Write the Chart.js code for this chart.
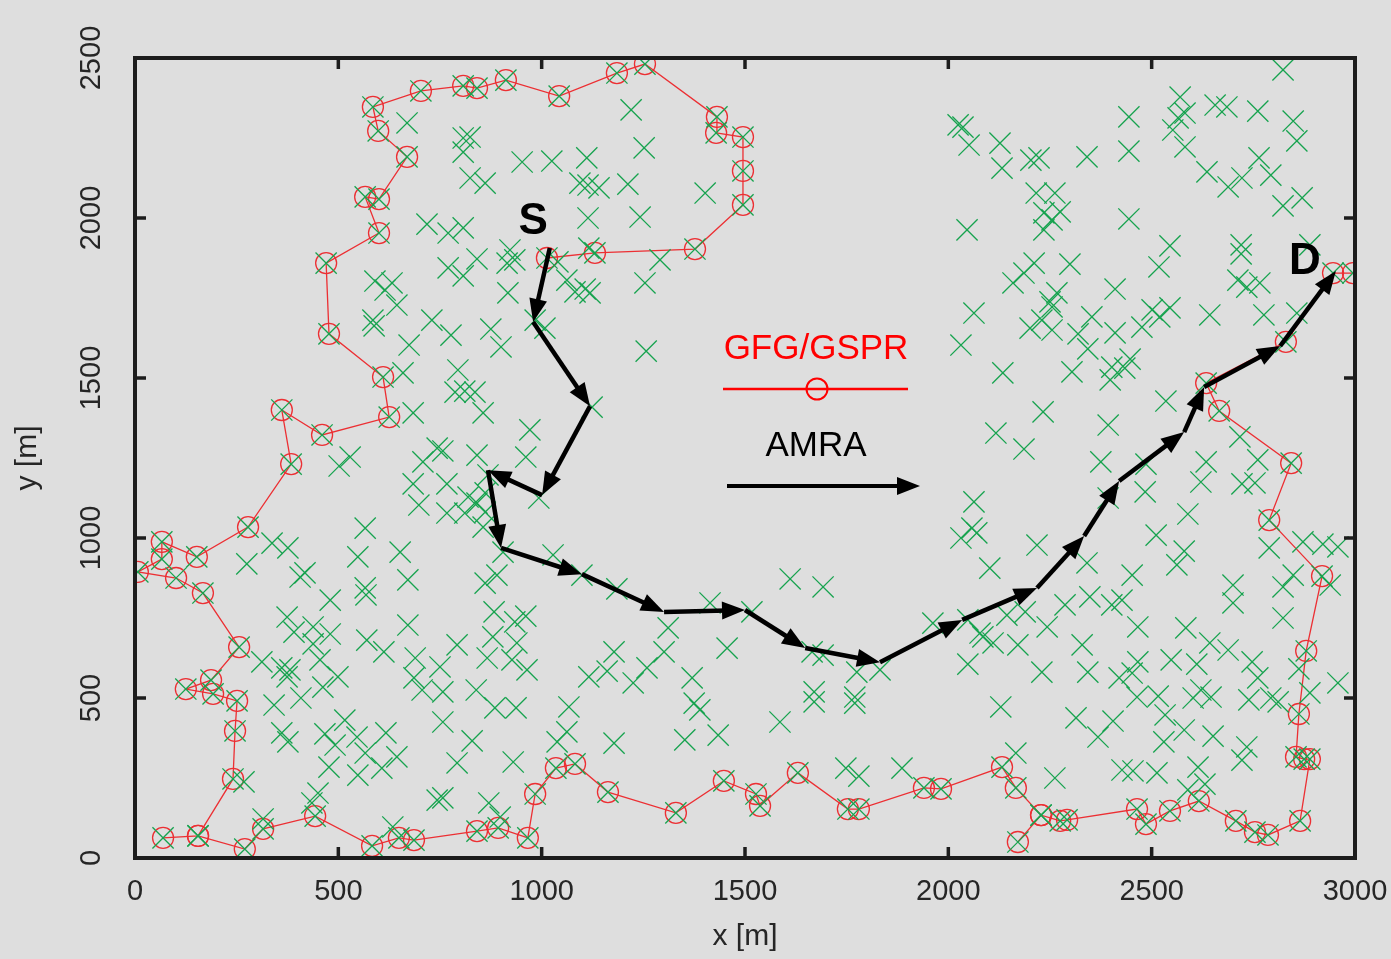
<!DOCTYPE html>
<html>
<head>
<meta charset="utf-8">
<script src="https://cdn.jsdelivr.net/npm/chart.js@4.4.1/dist/chart.umd.min.js"></script>
<style>
  html, body { margin: 0; padding: 0; background: #dedede; }
  canvas { display: block; }
</style>
</head>
<body>
<canvas id="myChart" width="1391" height="959"></canvas>
<script>
const ctx = document.getElementById("myChart").getContext("2d");

// GFG/GSPR route, S -> D (m)
const routeX = [1013,1131,1377,1495,1495,1495,1429,1431,1254,1185,1043,912,841,807,703,585,598,669,600,566,600,470,477,610,625,460,361,384,278,152,66,66,7,101,167,256,187,125,192,251,246,241,155,69,155,270,315,443,583,649,686,841,893,966,984,1035,1082,1163,1330,1448,1527,1537,1630,1753,1780,1940,1982,2132,2166,2228,2171,2228,2275,2292,2464,2486,2545,2616,2707,2754,2786,2865,2889,2875,2855,2862,2880,2919,2789,2843,2666,2634,2830,2946,2995];
const routeY = [1875,1891,1903,2041,2147,2253,2266,2316,2481,2453,2381,2431,2406,2413,2397,2347,2272,2191,2059,2066,1953,1859,1638,1503,1378,1322,1400,1231,1034,941,988,934,894,875,828,659,556,528,513,491,397,247,69,63,69,28,91,131,38,63,56,84,94,63,200,281,294,206,141,241,200,163,266,153,153,219,216,284,219,134,50,134,116,119,153,106,147,178,116,81,72,116,309,309,316,450,647,881,1056,1234,1397,1484,1613,1828,1828];

// AMRA route waypoints (m)
const amraX = [1020,979,1119,1001,868,900,1099,1301,1500,1648,1832,2034,2218,2334,2420,2580,2629,2816,2953];
const amraY = [1906,1675,1412,1134,1212,969,887,769,775,656,612,744,844,1006,1178,1331,1472,1600,1834];

// other nodes (m)
const nodeX = [
  669,718,590,615,632,644,585,730,
  1220,807,824,807,824,861,952,1025,1111,1094,1114,1141,1212,1252,1402,1114,1242,770,807,922,934,915,841,770,807,917,1116,1040,1062,1107,1119,1082,1254,1291,984,
  2024,2036,2051,2127,2132,2203,2223,2216,2235,2235,2046,2211,2186,2159,2063,2230,2250,
  2823,2444,2570,2565,2582,2552,2582,2656,2685,2761,2848,2857,2444,2341,2764,2793,2636,2688,2722,2823,2870,2444,2262,2275,2255,2545,2518,2299,2720,2720,2889,2712,2734,2766,2410,2267,2255,2501,2520,2545,2353,2643,2776,2857,
  588,674,659,684,529,502,708,684,698,566,337,376,275,548,652,406,418,566,671,743,
  777,875,900,1008,1257,794,811,836,787,856,971,1124,757,841,961,767,819,841,861,868,767,811,861,856,993,905,1028,1099,861,890,1185,
  2031,2134,2233,2117,2186,2063,2058,2031,2070,2102,2218,1611,1692,2201,
  2255,2319,2410,2476,2343,2304,2402,2447,2398,2434,2535,2393,2717,2375,2634,2761,2486,2621,2722,2754,2393,2484,2589,2511,2580,2562,2341,2452,2700,2789,2872,2921,2958,2848,2939,2823,
  480,568,374,391,438,480,438,312,361,381,374,455,499,462,408,342,570,612,671,689,686,706,361,376,467,492,516,546,566,617,644,477,548,607,268,450,435,634,743,315,
  883,934,961,792,880,939,866,927,964,750,757,839,885,937,757,829,792,930,757,870,898,1067,1062,1038,1178,1161,1116,1225,1259,1301,1311,1414,1456,1370,1375,1389,1352,1434,1178,
  1517,1665,1692,1775,1832,1670,1670,1770,1770,1586,1962,2048,2078,2110,2171,2144,2189,2048,2230,2129,2166,1748,1780,1886,2085,2243,
  2287,2348,2402,2427,2329,2466,2584,2700,2823,2643,2688,2747,2548,2466,2452,2343,2420,2611,2761,2464,2516,2621,2646,2602,2739,2793,2811,2889,2862,2958,2314,2368,2405,2533,2580,2651,2530,2734,2722,2262,2427,2454,2513,2614,2589,2631
];
const nodeY = [
  2297,1981,1803,1775,1797,1728,1681,1681,
  2338,2250,2253,2206,2125,2109,2175,2178,2188,2109,2103,2094,2106,2219,2078,2000,2003,1953,1969,1900,1869,1859,1872,1844,1819,1766,1906,1863,1806,1778,1766,1769,1797,1869,1681,
  2291,2284,2228,2234,2156,2181,2188,2078,2016,1963,1963,1859,1828,1797,1703,1681,1738,
  2463,2316,2378,2313,2328,2275,2222,2353,2347,2334,2303,2241,2209,2191,2188,2134,2144,2097,2125,2038,2063,1997,2078,2019,1994,1913,1847,1856,1916,1888,1916,1806,1784,1797,1778,1766,1722,1713,1691,1719,1691,1697,1697,1703,
  1663,1603,1516,1391,1253,1225,1238,1169,1103,1031,984,969,919,941,956,878,891,844,869,1281,
  1634,1653,1597,1656,1584,1525,1459,1456,1456,1391,1338,1409,1272,1259,1253,1169,1128,1109,1141,1197,1078,1078,1081,1034,1125,956,947,884,859,884,841,
  1603,1516,1394,1328,1278,1113,1031,1000,1016,906,978,872,847,1656,
  1650,1638,1641,1659,1591,1519,1534,1559,1494,1531,1428,1353,1316,1238,1238,1244,1231,1175,1169,1172,1125,1144,1075,1009,959,916,922,884,853,969,988,981,972,884,853,847,
  806,822,753,706,722,700,669,613,594,588,566,619,566,534,500,478,681,644,728,625,563,525,391,363,388,353,431,378,328,391,316,284,259,281,238,203,172,97,181,122,
  769,738,756,666,691,672,625,619,588,597,519,525,469,469,425,366,297,300,188,172,128,472,394,363,644,584,566,547,594,644,719,797,656,563,484,463,369,384,359,
  769,644,634,581,588,519,488,503,484,425,734,744,703,672,666,759,769,606,581,472,328,281,256,281,691,722,
  791,816,791,806,666,722,719,797,750,672,650,613,619,613,578,581,563,606,563,503,506,525,503,500,494,500,488,516,591,547,438,378,428,447,400,381,363,347,306,250,275,272,266,284,213,231
];

// point labels
const markText = ["S", "D"];
const markX = [979, 2877];
const markY = [1988, 1863];

// axis ticks
const xTicks = [0, 500, 1000, 1500, 2000, 2500, 3000];
const yTicks = [0, 500, 1000, 1500, 2000, 2500];

const toPts = (xs, ys) => xs.map((x, i) => ({ x, y: ys[i] }));
const routePts = toPts(routeX, routeY);
const nodePts = routePts.concat(toPts(nodeX, nodeY));
const amraPts = toPts(amraX, amraY);

const FONT = "'Liberation Sans', Arial, Helvetica, sans-serif";
const TXT = "#262626";

function arrow(c, x0, y0, x1, y1, len, half) {
  const dx = x1 - x0, dy = y1 - y0;
  const d = Math.hypot(dx, dy) || 1;
  const ux = dx / d, uy = dy / d;
  const bx = x1 - ux * len, by = y1 - uy * len;
  c.beginPath();
  c.moveTo(x0, y0);
  c.lineTo(x1 - ux * len * 0.8, y1 - uy * len * 0.8);
  c.stroke();
  c.beginPath();
  c.moveTo(x1, y1);
  c.lineTo(bx - uy * half, by + ux * half);
  c.lineTo(bx + uy * half, by - ux * half);
  c.closePath();
  c.fill();
}

// 背景、箭頭、圖例、外框
const overlayPlugin = {
  id: "overlay",
  beforeDraw(chart) {
    const c = chart.ctx;
    c.save();
    c.fillStyle = "#dedede";
    c.fillRect(0, 0, chart.width, chart.height);
    c.restore();
  },
  afterDatasetsDraw(chart) {
    const c = chart.ctx;
    const { scales: { x, y } } = chart;
    const pts = chart.getDatasetMeta(0).data;

    // AMRA arrows
    c.save();
    c.strokeStyle = "#000";
    c.fillStyle = "#000";
    c.lineWidth = 4.5;
    for (let i = 1; i < pts.length; i++) {
      arrow(c, pts[i - 1].x, pts[i - 1].y, pts[i].x, pts[i].y, 23, 9);
    }

    // S / D
    c.font = "bold 44px " + FONT;
    c.textAlign = "center";
    c.textBaseline = "middle";
    markText.forEach((t, i) => {
      c.fillText(t, x.getPixelForValue(markX[i]), y.getPixelForValue(markY[i]));
    });

    // legend
    c.font = "35px " + FONT;
    c.fillStyle = "#ff0000";
    c.fillText("GFG/GSPR", 816, 349);
    c.strokeStyle = "#ff0000";
    c.lineWidth = 2.5;
    c.beginPath();
    c.moveTo(723, 389);
    c.lineTo(908, 389);
    c.stroke();
    c.lineWidth = 2;
    c.beginPath();
    c.arc(817, 389, 10.5, 0, 2 * Math.PI);
    c.stroke();

    c.fillStyle = "#000";
    c.fillText("AMRA", 816, 446);
    c.strokeStyle = "#000";
    c.lineWidth = 4;
    arrow(c, 727, 486, 920, 486, 23, 9);
    c.restore();
  },
  afterDraw(chart) {
    const c = chart.ctx;
    const { chartArea: { left, right, top, bottom }, scales: { x, y } } = chart;
    c.save();
    c.strokeStyle = "#1c1c1c";
    c.lineWidth = 4;
    c.strokeRect(left, top, right - left, bottom - top);
    c.lineWidth = 3.5;
    c.beginPath();
    xTicks.slice(1, -1).forEach((v) => {
      const px = x.getPixelForValue(v);
      c.moveTo(px, bottom);
      c.lineTo(px, bottom - 11);
      c.moveTo(px, top);
      c.lineTo(px, top + 11);
    });
    yTicks.slice(1, -1).forEach((v) => {
      const py = y.getPixelForValue(v);
      c.moveTo(left, py);
      c.lineTo(left + 11, py);
      c.moveTo(right, py);
      c.lineTo(right - 11, py);
    });
    c.stroke();
    c.restore();
  },
};

const myChart = new Chart(ctx, {
  type: "scatter",
  data: {
    datasets: [
      {
        label: "AMRA",
        data: amraPts,
        showLine: false,
        pointRadius: 0,
        order: 0,
      },
      {
        label: "nodes",
        data: nodePts,
        pointStyle: "crossRot",
        pointRadius: 15,
        borderColor: "#17a34f",
        borderWidth: 1.3,
        order: 1,
      },
      {
        label: "GFG/GSPR",
        data: routePts,
        showLine: true,
        borderColor: "#ec2f33",
        borderWidth: 1.3,
        pointStyle: "circle",
        pointRadius: 10.5,
        pointBorderColor: "#ec2f33",
        pointBackgroundColor: "rgba(0,0,0,0)",
        pointBorderWidth: 1.3,
        order: 2,
      },
    ],
  },
  options: {
    responsive: false,
    animation: false,
    events: [],
    layout: {
      padding: { top: 58, right: 36, left: 0, bottom: 0 },
    },
    scales: {
      x: {
        type: "linear",
        min: 0,
        max: 3000,
        border: { display: false },
        grid: { display: false, drawTicks: false },
        ticks: {
          stepSize: 500,
          autoSkip: false,
          maxRotation: 0,
          padding: 17,
          color: TXT,
          font: { family: FONT, size: 29 },
          callback: (v) => String(v),
        },
        title: {
          display: true,
          text: "x [m]",
          color: TXT,
          font: { family: FONT, size: 30 },
          padding: { top: 0, bottom: 4 },
        },
        afterFit(scale) {
          scale.height = 101;
          scale.paddingLeft = 0;
          scale.paddingRight = 0;
        },
      },
      y: {
        type: "linear",
        min: 0,
        max: 2500,
        border: { display: false },
        grid: { display: false, drawTicks: false },
        ticks: {
          stepSize: 500,
          autoSkip: false,
          minRotation: 90,
          maxRotation: 90,
          crossAlign: "center",
          padding: 11,
          color: TXT,
          font: { family: FONT, size: 29 },
          callback: (v) => String(v),
        },
        title: {
          display: true,
          text: "y [m]",
          color: TXT,
          font: { family: FONT, size: 30 },
          padding: { top: 10, bottom: 0 },
        },
        afterFit(scale) {
          scale.width = 135;
          scale.paddingTop = 0;
          scale.paddingBottom = 0;
        },
      },
    },
    plugins: {
      legend: { display: false },
      tooltip: { enabled: false },
    },
  },
  plugins: [overlayPlugin],
});
</script>
</body>
</html>
